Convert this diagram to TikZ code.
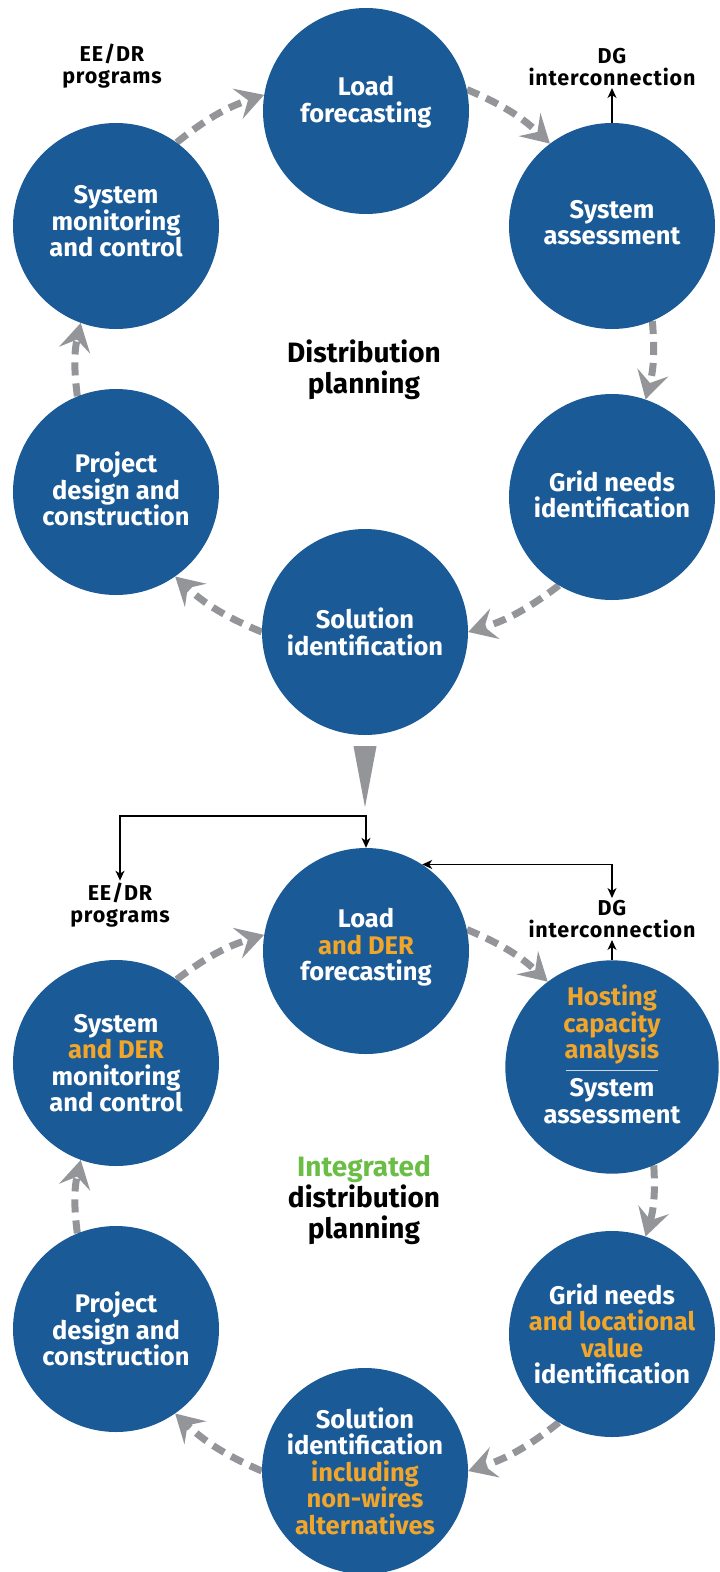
\documentclass[tikz,border=0pt]{standalone}
\usepackage{fontspec}
\setmainfont{Fira Sans}
\newfontfamily\notefont{Fira Sans}[LetterSpace=4]
\usepackage{xcolor}
\usetikzlibrary{arrows.meta,calc,backgrounds}

\definecolor{hubblue}{HTML}{1A5A96}
\definecolor{derorange}{HTML}{F0A52B}
\definecolor{idpgreen}{HTML}{6ABD45}
\definecolor{cyclegray}{HTML}{939598}
\definecolor{rulecol}{HTML}{C9D7E7}

\newcommand{\der}[1]{\textcolor{derorange}{#1}}

\begin{document}
\begin{tikzpicture}[x=1pt, y=-1pt,
    hub/.style={circle, fill=hubblue, minimum size=206pt, inner sep=0pt, align=center, text=white, font=\fontsize{25.5}{26.5}\selectfont\bfseries},
    note/.style={align=center, inner sep=2pt, font=\notefont\fontsize{21.5}{22}\selectfont\bfseries},
    heading/.style={align=center, font=\fontsize{28}{31}\selectfont\bfseries},
    looparrow/.style={draw=cyclegray, line width=7pt, dash pattern=on 13pt off 8pt, bend left=10, -{Stealth[length=28pt, width=32pt, inset=11pt, line width=0pt]}},
    link/.style={draw=black, line width=1.2pt, -{Stealth[length=10pt, width=9pt, inset=3pt]}},
    dlink/.style={link, {Stealth[length=10pt, width=9pt, inset=3pt]}-{Stealth[length=10pt, width=9pt, inset=3pt]}},
  ]
  \useasboundingbox (0,0) rectangle (720,1572);

  % Distribution planning
  \node[hub, text depth=23pt] (load) at (366,111) {Load\\forecasting};
  \node[hub, text depth=7pt] (assess) at (612,226) {System\\assessment};
  \node[hub, text depth=6pt] (needs) at (612,497) {Grid needs\\identification};
  \node[hub] (sol) at (365,632) {Solution\\identification};
  \node[hub, text depth=6pt] (build) at (116,492) {Project\\design and\\construction};
  \node[hub, text depth=10pt] (monitor) at (116,226) {System\\monitoring\\and control};
  \node[heading] (dp) at (364,370) {Distribution\\planning};
  \node[note] (eedr) at (112,66) {EE/DR\\programs};
  \node[note] (dg) at (612,67) {DG\\interconnection};

  \begin{scope}[on background layer]
    \draw[looparrow] (load.12) to (assess.127);
    \draw[looparrow] (assess.-67) to (needs.71);
    \draw[looparrow] (needs.-121) to (sol.0);
    \draw[looparrow] (sol.180) to (build.-55);
    \draw[looparrow] (build.112) to (monitor.-110);
    \draw[looparrow] (monitor.54) to (load.171);
  \end{scope}
  \draw[link] (assess) -- (dg);

  % step down to the integrated cycle
  \fill[cyclegray] ($(sol.south)+(-11.5,11)$) -- ++(23,0) -- ($(sol.south)+(0,72)$) -- cycle;

  % Integrated distribution planning
  \node[hub, text depth=13pt] (load2) at (366,951) {Load\\\der{and DER}\\forecasting};
  \node[hub, text depth=26pt] (host) at (612,1067) {\der{Hosting}\\\der{capacity}\\\der{analysis}\\[-14pt]\textcolor{rulecol}{\rule{92pt}{1.2pt}}\\[-1pt]System\\assessment};
  \node[hub] (needs2) at (612,1334) {Grid needs\\\der{and locational}\\\der{value}\\identification};
  \node[hub] (sol2) at (365,1471) {Solution\\identification\\\der{including}\\\der{non-wires}\\\der{alternatives}};
  \node[hub] (build2) at (116,1329) {Project\\design and\\construction};
  \node[hub] (monitor2) at (116,1063) {System\\\der{and DER}\\monitoring\\and control};
  \node[heading] (idp) at (364,1200) {\textcolor{idpgreen}{Integrated}\\distribution\\planning};
  \node[note] (eedr2) at (120,905) {EE/DR\\programs};
  \node[note] (dg2) at (612,919) {DG\\interconnection};

  \begin{scope}[on background layer]
    \draw[looparrow] (load2.12) to (host.127);
    \draw[looparrow] (host.-67) to (needs2.71);
    \draw[looparrow] (needs2.-121) to (sol2.0);
    \draw[looparrow] (sol2.180) to (build2.-55);
    \draw[looparrow] (build2.112) to (monitor2.-110);
    \draw[looparrow] (monitor2.54) to (load2.171);
  \end{scope}

  \coordinate (split) at (366,816);
  \draw[dlink] (eedr2) |- (split) -- (load2);
  \draw[dlink] (load2.57) -| (dg2);
  \draw[link] (host) -- (dg2);
\end{tikzpicture}
\end{document}
